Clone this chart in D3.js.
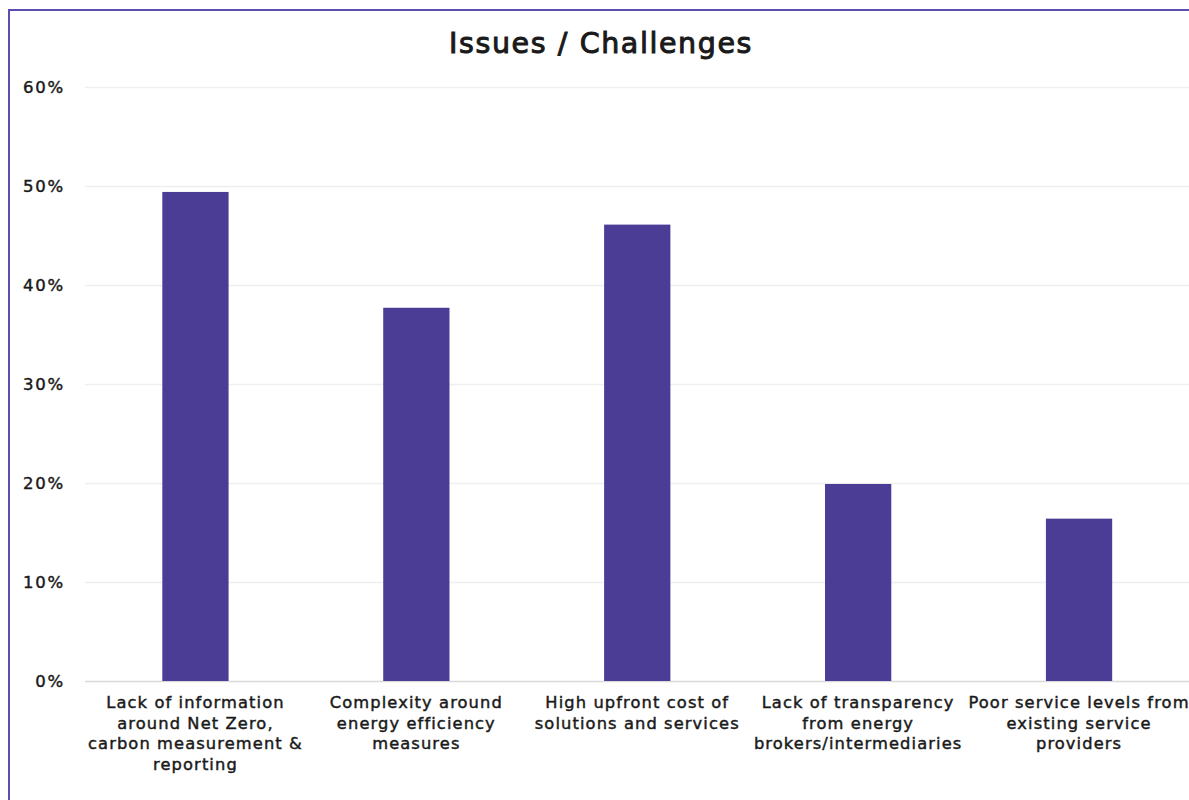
<!DOCTYPE html>
<html><head><meta charset="utf-8">
<script src="https://cdn.jsdelivr.net/npm/d3@7"></script>
<style>body{margin:0;background:#fff;} svg{display:block;}</style>
</head><body>
<svg id="c" width="1189" height="800"></svg>
<script>
const categories = [
  "Lack of information around Net Zero, carbon measurement & reporting",
  "Complexity around energy efficiency measures",
  "High upfront cost of solutions and services",
  "Lack of transparency from energy brokers/intermediaries",
  "Poor service levels from existing service providers"
];
const labelLines = [
  ["Lack of information", "around Net Zero,", "carbon measurement &", "reporting"],
  ["Complexity around", "energy efficiency", "measures"],
  ["High upfront cost of", "solutions and services"],
  ["Lack of transparency", "from energy", "brokers/intermediaries"],
  ["Poor service levels from", "existing service", "providers"]
];
const values = [0.494, 0.377, 0.461, 0.199, 0.164];
const yTicks = [0, 0.1, 0.2, 0.3, 0.4, 0.5, 0.6];
const title = "Issues / Challenges";

const svg = d3.select("#c");
const font = "'DejaVu Sans', sans-serif";
const m = {left: 85, right: 0, top: 87, bottom: 119};
const W = 1189, H = 800;

// border
svg.append("rect").attr("x", 9).attr("y", 10).attr("width", 1200).attr("height", 820)
  .attr("fill", "none").attr("stroke", "#5a4fb0").attr("stroke-width", 2);

const x = d3.scaleBand().domain(categories).range([m.left, 1189.5]).paddingInner(0.7).paddingOuter(0.35);
const y = d3.scaleLinear().domain([0, 0.6]).range([H - m.bottom, m.top]);

// grid
const gy = svg.append("g").attr("transform", `translate(${m.left},0)`)
  .call(d3.axisLeft(y).tickValues(yTicks).tickFormat(d3.format(".0%")).tickSize(-(W - m.left)).tickPadding(20));
gy.select(".domain").remove();
gy.selectAll(".tick line").attr("stroke", d => d === 0 ? "#d9d9d9" : "#efefef").attr("stroke-width", 1.3);
gy.selectAll(".tick text").attr("font-family", font).attr("font-size", 16.5).attr("font-weight", 400)
  .attr("letter-spacing", 1.8).attr("stroke", "#1a1a1a").attr("stroke-width", 0.45).attr("fill", "#1a1a1a");

svg.append("g").selectAll("rect").data(values).join("rect")
  .attr("x", (d, i) => x(categories[i]))
  .attr("width", x.bandwidth())
  .attr("y", d => y(d))
  .attr("height", d => y(0) - y(d))
  .attr("fill", "#4b3c96");

// x labels
const gx = svg.append("g").attr("transform", `translate(0,${y(0)})`)
  .call(d3.axisBottom(x).tickSize(0).tickFormat(""));
gx.select(".domain").remove();
gx.selectAll(".tick").each(function(d, i) {
  const t = d3.select(this).append("text")
    .attr("font-family", font).attr("font-size", 16.3).attr("font-weight", 400)
    .attr("letter-spacing", 1.1).attr("stroke", "#1a1a1a").attr("stroke-width", 0.45)
    .attr("fill", "#1a1a1a").attr("text-anchor", "middle");
  labelLines[i].forEach((ln, k) => {
    t.append("tspan").attr("x", 0).attr("y", 27 + k * 20.5).text(ln);
  });
});

svg.append("text").attr("x", 601).attr("y", 53).attr("text-anchor", "middle")
  .attr("font-family", font).attr("font-size", 28.5).attr("font-weight", 400)
  .attr("letter-spacing", 1.6).attr("stroke", "#1a1a1a").attr("stroke-width", 1)
  .attr("fill", "#1a1a1a").text(title);
</script>
</body></html>
